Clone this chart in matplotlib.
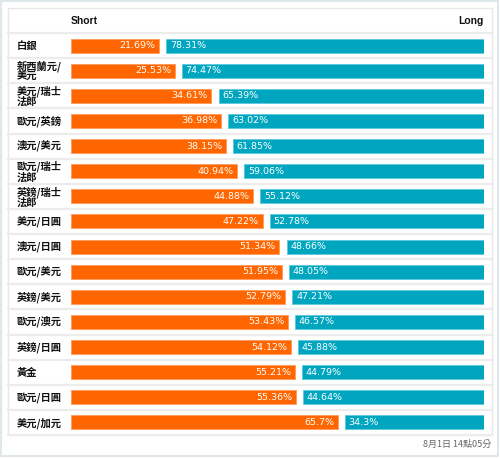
import matplotlib
matplotlib.use("Agg")
import matplotlib.pyplot as plt
from matplotlib.patches import Rectangle
from matplotlib.transforms import blended_transform_factory

categories = ["白銀", "新西蘭元/\n美元", "美元/瑞士\n法郎", "歐元/英鎊", "澳元/美元",
              "歐元/瑞士\n法郎", "英鎊/瑞士\n法郎", "美元/日圓", "澳元/日圓", "歐元/美元",
              "英鎊/美元", "歐元/澳元", "英鎊/日圓", "黃金", "歐元/日圓", "美元/加元"]
short_pct = [21.69, 25.53, 34.61, 36.98, 38.15, 40.94, 44.88, 47.22, 51.34, 51.95,
             52.79, 53.43, 54.12, 55.21, 55.36, 65.7]
long_pct = [78.31, 74.47, 65.39, 63.02, 61.85, 59.06, 55.12, 52.78, 48.66, 48.05,
            47.21, 46.57, 45.88, 44.79, 44.64, 34.3]
timestamp = "8月1日 14點05分"

ORANGE = "#ff6600"
CYAN = "#00a6c0"
CJK = ["Noto Sans CJK TC", "DejaVu Sans"]
W, H = 500, 458
GAP = 1.8

fig = plt.figure(figsize=(W / 100, H / 100), dpi=100)
bg = fig.add_axes([0, 0, 1, 1])
bg.set_xlim(0, W)
bg.set_ylim(H, 0)
bg.axis("off")

# outer frame and table box
bg.add_patch(Rectangle((1, 1), W - 3, H - 3, fill=False, ec="#d8e4e8", lw=1.2))
bg.add_patch(Rectangle((8, 8), 484, 427, fill=False, ec="#e8e8e8", lw=1))

top, bottom = 33, 435
n = len(categories)
row_h = (bottom - top) / n
for i in range(n + 1):
    bg.plot([8, 492], [top + i * row_h] * 2, color="#ececec", lw=1.6)

bg.text(71, 20.5, "Short", fontsize=7.5, fontweight="bold", va="center", ha="left",
        family=["Liberation Sans", "DejaVu Sans"], color="#111111")
bg.text(484, 20.5, "Long", fontsize=7.5, fontweight="bold", va="center", ha="right",
        family=["Liberation Sans", "DejaVu Sans"], color="#111111")
bg.text(491, 444.5, timestamp, fontsize=6.5, va="center", ha="right",
        family=CJK, color="#666666")

# bar area
x0, x1 = 71, 484
ax = fig.add_axes([x0 / W, 1 - bottom / H, (x1 - x0) / W, (bottom - top) / H])
ax.set_xlim(0, 100 + GAP)
ax.set_ylim(n - 0.5, -0.5)
ax.axis("off")
ax.patch.set_alpha(0)

ys = list(range(n))
bh = 14 / row_h
ax.barh(ys, short_pct, height=bh, left=0, color=ORANGE, edgecolor="#ff9a5c", lw=0.6)
long_left = [s + GAP for s in short_pct]
ax.barh(ys, long_pct, height=bh, left=long_left, color=CYAN, edgecolor="#5cc8d8", lw=0.6)

for y, s, l, ll in zip(ys, short_pct, long_pct, long_left):
    ax.text(s - 0.9, y, f"{s:g}%", color="white", fontsize=6.8, ha="right", va="center",
            family="DejaVu Sans")
    ax.text(ll + 0.9, y, f"{l:g}%", color="white", fontsize=6.8, ha="left", va="center",
            family="DejaVu Sans")

trans = blended_transform_factory(bg.transData, ax.transData)
for y, c in zip(ys, categories):
    ax.text(17, y + 0.02, c, transform=trans, fontsize=7.4, ha="left", va="center",
            family=CJK, fontweight="bold", color="#111111", linespacing=0.95)

fig.savefig("out.png", dpi=100, facecolor="white")
